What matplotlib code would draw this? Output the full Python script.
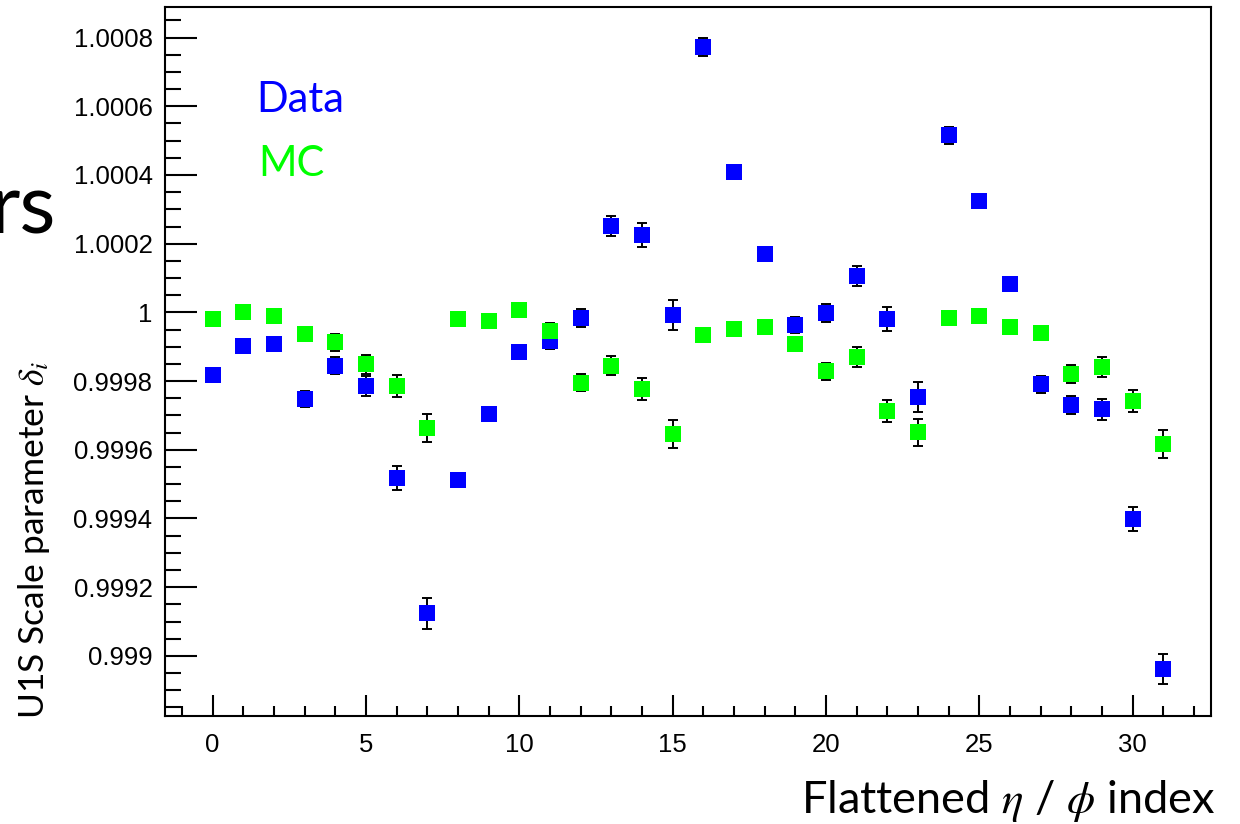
import numpy as np
import matplotlib
matplotlib.use('Agg')
import matplotlib.pyplot as plt
from matplotlib.ticker import MultipleLocator, FuncFormatter

# ── DATA ──────────────────────────────────────────────────────────────────────
index = list(range(32))

data_vals = [0.999817, 0.999903, 0.999908, 0.999748, 0.999845, 0.999786, 0.999518, 0.999124,
             0.999512, 0.999705, 0.999884, 0.999916, 0.999983, 1.000251, 1.000225, 0.999992,
             1.000773, 1.000409, 1.000170, 0.999963, 0.999998, 1.000106, 0.999980, 0.999753,
             1.000516, 1.000324, 1.000082, 0.999791, 0.999730, 0.999718, 0.999398, 0.998961]
data_errs = [0.000015, 0.000015, 0.000015, 0.000023, 0.000024, 0.000028, 0.000034, 0.000045,
             0.000015, 0.000015, 0.000015, 0.000024, 0.000027, 0.000030, 0.000035, 0.000044,
             0.000026, 0.000018, 0.000018, 0.000024, 0.000027, 0.000029, 0.000035, 0.000043,
             0.000025, 0.000018, 0.000018, 0.000025, 0.000027, 0.000030, 0.000035, 0.000044]

mc_vals = [0.999980, 1.000001, 0.999989, 0.999937, 0.999913, 0.999849, 0.999786, 0.999663,
           0.999980, 0.999975, 1.000007, 0.999946, 0.999795, 0.999845, 0.999777, 0.999646,
           0.999934, 0.999951, 0.999957, 0.999908, 0.999829, 0.999870, 0.999713, 0.999651,
           0.999983, 0.999989, 0.999957, 0.999940, 0.999820, 0.999841, 0.999742, 0.999616]
mc_errs = [0.000018, 0.000018, 0.000018, 0.000020, 0.000025, 0.000028, 0.000033, 0.000040,
           0.000018, 0.000018, 0.000018, 0.000022, 0.000025, 0.000028, 0.000033, 0.000040,
           0.000018, 0.000018, 0.000018, 0.000020, 0.000025, 0.000028, 0.000033, 0.000040,
           0.000018, 0.000018, 0.000018, 0.000020, 0.000026, 0.000028, 0.000033, 0.000041]

BLUE  = '#0000FF'
GREEN = '#00FF00'

plt.rcParams.update({
    'mathtext.fontset': 'stix',
    'axes.linewidth':   1.5,
})

W, H = 1240, 824
fig = plt.figure(figsize=(W / 100, H / 100), dpi=100)
fig.patch.set_facecolor('white')

# axes box in pixel coords: left 165, right 1211, top 7, bottom 716
ax = fig.add_axes([165 / W, 1 - 716 / H, (1211 - 165) / W, (716 - 7) / H])

ax.errorbar(index, data_vals, yerr=data_errs, fmt='none', ecolor='black',
            elinewidth=1.4, capsize=3.5, capthick=1.4, zorder=2)
ax.plot(index, data_vals, 's', color=BLUE, markersize=11.5,
        markeredgewidth=0, zorder=3)
ax.errorbar(index, mc_vals, yerr=mc_errs, fmt='none', ecolor='black',
            elinewidth=1.4, capsize=3.5, capthick=1.4, zorder=4)
ax.plot(index, mc_vals, 's', color=GREEN, markersize=11.5,
        markeredgewidth=0, zorder=5)

ax.set_xlim(-1.55, 32.55)
ax.set_ylim(0.998825, 1.000889)

ax.xaxis.set_major_locator(MultipleLocator(5))
ax.xaxis.set_minor_locator(MultipleLocator(1))
ax.yaxis.set_major_locator(MultipleLocator(0.0002))
ax.yaxis.set_minor_locator(MultipleLocator(0.00005))
ax.yaxis.set_major_formatter(FuncFormatter(lambda v, _: f'{round(v, 4):g}'))

ax.tick_params(axis='y', which='major', direction='in', length=23, width=1.5,
               left=True, right=False, pad=9, labelsize=18.5)
ax.tick_params(axis='y', which='minor', direction='in', length=11.5, width=1.5,
               left=True, right=False)
ax.tick_params(axis='x', which='major', direction='in', length=15, width=1.5,
               bottom=True, top=False, pad=12, labelsize=18.5)
ax.tick_params(axis='x', which='minor', direction='in', length=7.5, width=1.5,
               bottom=True, top=False)
for lab in ax.get_xticklabels() + ax.get_yticklabels():
    lab.set_fontfamily('Liberation Sans')

# legend-like labels inside the frame
ax.text(256 / W, 1 - 112 / H, 'Data', transform=fig.transFigure, color=BLUE,
        fontsize=30, family='Lato', ha='left', va='baseline')
ax.text(258 / W, 1 - 176 / H, 'MC', transform=fig.transFigure, color=GREEN,
        fontsize=30, family='Lato', ha='left', va='baseline')

# axis titles (slide text, Calibri-like)
fig.text(34 / W, 1 - 540 / H, r'U1S Scale parameter $\delta_i$', rotation=90,
         fontsize=25.5, family='Lato', ha='center', va='center')
fig.text(1215 / W, 1 - 801 / H, r'Flattened $\eta$ / $\phi$ index',
         fontsize=32.5, family='Lato', ha='right', va='center')

# cut-off slide title fragment at the left edge
fig.text(56 / W, 1 - 233 / H, 'rs', fontsize=60, family='Lato',
         ha='right', va='baseline')

fig.savefig('out.png', dpi=100, facecolor='white')
